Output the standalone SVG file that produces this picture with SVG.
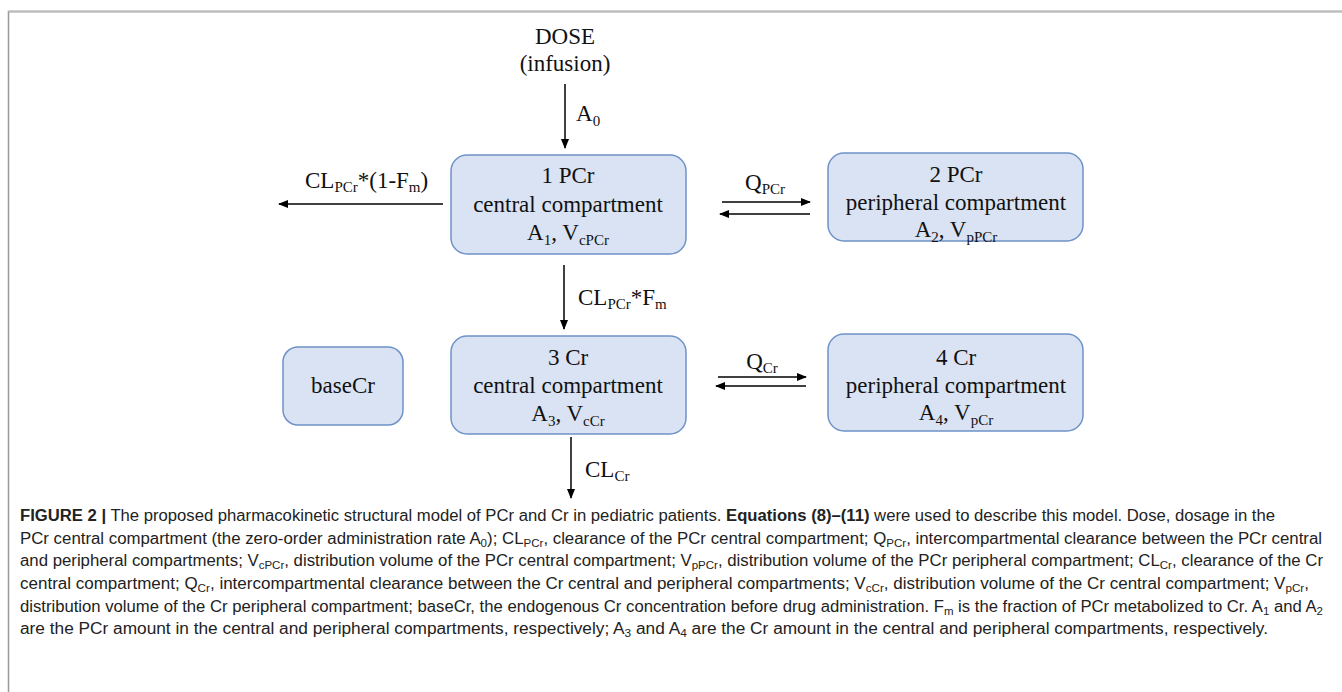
<svg xmlns="http://www.w3.org/2000/svg" width="1342" height="692" viewBox="0 0 1342 692">
<defs>
<marker id="ah" markerWidth="10" markerHeight="8" refX="9" refY="4" orient="auto" markerUnits="userSpaceOnUse">
<path d="M0,0 L10,4 L0,8 Z" fill="#000"/>
</marker>
<style>
.box{fill:#dae3f3;stroke:#6f93c8;stroke-width:1.5}
.t{font-family:"Liberation Serif","Times New Roman",serif;font-size:23px;fill:#111}
.c{font-family:"Liberation Sans",Arial,sans-serif;font-size:16px;fill:#222}
.ln{stroke:#000;stroke-width:1.5;fill:none;marker-end:url(#ah)}
</style>
</defs>
<rect width="1342" height="692" fill="#fff"/>
<path d="M8.5,692 V11.5 H1342" stroke="#999" stroke-width="1.5" fill="none"/>
<path d="M8.5,11.5 H1342" stroke="#bbb" stroke-width="2" fill="none"/>

<g id="dose">
<text class="t" x="565" y="44" text-anchor="middle">DOSE</text>
<text class="t" x="565" y="71" text-anchor="middle">(infusion)</text>
</g>

<g id="pcr-central">
<rect class="box" x="451" y="155" width="235" height="99" rx="16"/>
<text class="t" x="568" y="183" text-anchor="middle">1 PCr</text>
<text class="t" x="568" y="212" text-anchor="middle">central  compartment</text>
<text class="t" x="568" y="240" text-anchor="middle">A<tspan font-size="15" dy="5">1</tspan><tspan dy="-5">, V</tspan><tspan font-size="15" dy="5">cPCr</tspan></text>
</g>

<g id="pcr-peripheral">
<rect class="box" x="828" y="153" width="255" height="88" rx="16"/>
<text class="t" x="956" y="182" text-anchor="middle">2 PCr</text>
<text class="t" x="956" y="210" text-anchor="middle">peripheral  compartment</text>
<text class="t" x="956" y="237" text-anchor="middle">A<tspan font-size="15" dy="5">2</tspan><tspan dy="-5">, V</tspan><tspan font-size="15" dy="5">pPCr</tspan></text>
</g>

<g id="basecr">
<rect class="box" x="283" y="347" width="120" height="78" rx="15"/>
<text class="t" x="343" y="393" text-anchor="middle">baseCr</text>
</g>

<g id="cr-central">
<rect class="box" x="451" y="336" width="235" height="98" rx="16"/>
<text class="t" x="568" y="365" text-anchor="middle">3 Cr</text>
<text class="t" x="568" y="393" text-anchor="middle">central  compartment</text>
<text class="t" x="568" y="421" text-anchor="middle">A<tspan font-size="15" dy="5">3</tspan><tspan dy="-5">, V</tspan><tspan font-size="15" dy="5">cCr</tspan></text>
</g>

<g id="cr-peripheral">
<rect class="box" x="828" y="334" width="255" height="97" rx="16"/>
<text class="t" x="956" y="365" text-anchor="middle">4 Cr</text>
<text class="t" x="956" y="393" text-anchor="middle">peripheral  compartment</text>
<text class="t" x="956" y="420" text-anchor="middle">A<tspan font-size="15" dy="5">4</tspan><tspan dy="-5">, V</tspan><tspan font-size="15" dy="5">pCr</tspan></text>
</g>

<g id="connectors">
<line class="ln" x1="565" y1="84" x2="565" y2="148"/>
<line class="ln" x1="443" y1="204" x2="279" y2="204"/>
<line class="ln" x1="722" y1="202" x2="810" y2="202"/>
<line class="ln" x1="810" y1="214" x2="720" y2="214"/>
<line class="ln" x1="564" y1="265" x2="564" y2="329"/>
<line class="ln" x1="718" y1="377" x2="806" y2="377"/>
<line class="ln" x1="806" y1="386" x2="716" y2="386"/>
<line class="ln" x1="571" y1="437" x2="571" y2="498"/>
<text class="t" x="576" y="121">A<tspan font-size="15" dy="5">0</tspan></text>
<text class="t" x="305" y="188">CL<tspan font-size="15" dy="4">PCr</tspan><tspan dy="-4">*(1-F</tspan><tspan font-size="15" dy="4">m</tspan><tspan dy="-4">)</tspan></text>
<text class="t" x="765" y="190" text-anchor="middle">Q<tspan font-size="15" dy="4">PCr</tspan></text>
<text class="t" x="578" y="305">CL<tspan font-size="15" dy="4">PCr</tspan><tspan dy="-4">*F</tspan><tspan font-size="15" dy="4">m</tspan></text>
<text class="t" x="762" y="369" text-anchor="middle">Q<tspan font-size="15" dy="4">Cr</tspan></text>
<text class="t" x="585" y="477">CL<tspan font-size="15" dy="4">Cr</tspan></text>
</g>

<g id="caption">
<text class="c" x="20" y="521" textLength="1255" lengthAdjust="spacingAndGlyphs"><tspan font-weight="bold">FIGURE 2 |</tspan> The proposed pharmacokinetic structural model of PCr and Cr in pediatric patients. <tspan font-weight="bold">Equations (8)–(11)</tspan> were used to describe this model. Dose, dosage in the</text>
<text class="c" x="20" y="544" textLength="1302" lengthAdjust="spacingAndGlyphs">PCr central compartment (the zero-order administration rate A<tspan font-size="11" dy="3">0</tspan><tspan dy="-3">); CL</tspan><tspan font-size="11" dy="3">PCr</tspan><tspan dy="-3">, clearance of the PCr central compartment; Q</tspan><tspan font-size="11" dy="3">PCr</tspan><tspan dy="-3">, intercompartmental clearance between the PCr central</tspan></text>
<text class="c" x="20" y="566" textLength="1303" lengthAdjust="spacingAndGlyphs">and peripheral compartments; V<tspan font-size="11" dy="3">cPCr</tspan><tspan dy="-3">, distribution volume of the PCr central compartment; V</tspan><tspan font-size="11" dy="3">pPCr</tspan><tspan dy="-3">, distribution volume of the PCr peripheral compartment; CL</tspan><tspan font-size="11" dy="3">Cr</tspan><tspan dy="-3">, clearance of the Cr</tspan></text>
<text class="c" x="20" y="589" textLength="1289" lengthAdjust="spacingAndGlyphs">central compartment; Q<tspan font-size="11" dy="3">Cr</tspan><tspan dy="-3">, intercompartmental clearance between the Cr central and peripheral compartments; V</tspan><tspan font-size="11" dy="3">cCr</tspan><tspan dy="-3">, distribution volume of the Cr central compartment; V</tspan><tspan font-size="11" dy="3">pCr</tspan><tspan dy="-3">,</tspan></text>
<text class="c" x="20" y="612" textLength="1303" lengthAdjust="spacingAndGlyphs">distribution volume of the Cr peripheral compartment; baseCr, the endogenous Cr concentration before drug administration. F<tspan font-size="11" dy="3">m</tspan><tspan dy="-3"> is the fraction of PCr metabolized to Cr. A</tspan><tspan font-size="11" dy="3">1</tspan><tspan dy="-3"> and A</tspan><tspan font-size="11" dy="3">2</tspan></text>
<text class="c" x="20" y="634" textLength="1248" lengthAdjust="spacingAndGlyphs">are the PCr amount in the central and peripheral compartments, respectively; A<tspan font-size="11" dy="3">3</tspan><tspan dy="-3"> and A</tspan><tspan font-size="11" dy="3">4</tspan><tspan dy="-3"> are the Cr amount in the central and peripheral compartments, respectively.</tspan></text>
</g>
</svg>
